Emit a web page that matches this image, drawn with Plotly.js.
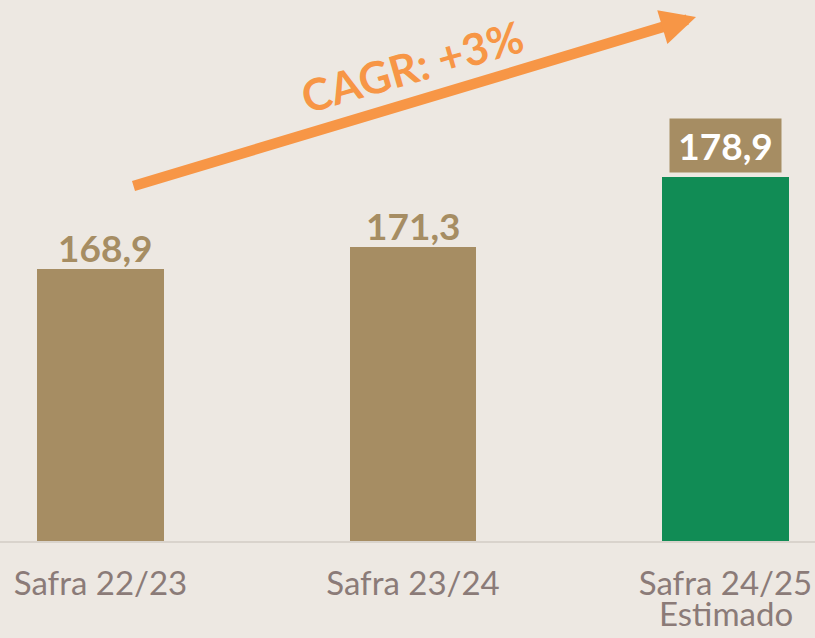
<!DOCTYPE html>
<html>
<head>
<meta charset="utf-8">
<script src="https://cdn.plot.ly/plotly-3.0.1.min.js"></script>
<style>
  html, body { margin: 0; padding: 0; background: #EDE8E2; }
  #chart { width: 815px; height: 638px; }
</style>
</head>
<body>
<div id="chart"></div>
<script>
// ---- data ----
const categories = ['Safra 22/23', 'Safra 23/24', 'Safra 24/25'];
const subLabels = ['', '', 'Estimado'];
const values = [168.9, 171.3, 178.9];
const valueLabels = ['168,9', '171,3', '178,9'];
const cagrLabel = 'CAGR: +3%';

// ---- styles ----
const TAN = '#A68D63';
const GREEN = '#118C55';
const ORANGE = '#F79646';
const BG = '#EDE8E2';
const TICK = '#8B7B78';
const barColors = values.map((v, i) => i === values.length - 1 ? GREEN : TAN);

const W = 815, H = 638, MB = 97;
const plotH = H - MB;

const trace = {
  type: 'bar',
  x: categories,
  y: values,
  width: 0.406,
  marker: { color: barColors, line: { width: 0 } },
  hoverinfo: 'skip'
};

const annotations = [];

// value labels
values.forEach((v, i) => {
  const last = i === values.length - 1;
  const a = {
    x: categories[i], y: v, xref: 'x', yref: 'y',
    text: '<b>' + valueLabels[i] + '</b>',
    showarrow: false,
    xanchor: 'center', yanchor: 'bottom',
    font: { family: 'Lato, sans-serif', size: 37, color: last ? '#FFFFFF' : TAN }
  };
  if (last) {
    a.bgcolor = TAN;
    a.width = 109;
    a.height = 51;
    a.borderpad = 1;
    a.yshift = 4;
    a.valign = 'middle';
  } else {
    a.yshift = -3;
    if (i === 0) a.xshift = 5;
  }
  annotations.push(a);
});

// second line of category labels
subLabels.forEach((s, i) => {
  if (!s) return;
  annotations.push({
    x: categories[i], y: 0, xref: 'x', yref: 'paper',
    text: s, showarrow: false,
    xanchor: 'center', yanchor: 'top', yshift: -51,
    borderpad: 0,
    font: { family: 'Lato, sans-serif', size: 33, color: TICK }
  });
});

// growth arrow
annotations.push({
  xref: 'paper', yref: 'paper',
  x: 696 / W, y: 1 - 17 / plotH,
  ax: 132 - 696, ay: 186.5 - 17,
  axref: 'pixel', ayref: 'pixel',
  text: '', showarrow: true,
  arrowhead: 2, arrowwidth: 10.5, arrowsize: 0.67,
  arrowcolor: ORANGE, standoff: 0
});

// CAGR text
annotations.push({
  xref: 'paper', yref: 'paper',
  x: 412 / W, y: 1 - 66 / plotH,
  xanchor: 'center', yanchor: 'middle',
  text: '<b>' + cagrLabel + '</b>',
  showarrow: false, textangle: -16,
  font: { family: 'Lato, sans-serif', size: 44, color: ORANGE }
});

const layout = {
  width: W, height: H,
  margin: { l: 0, r: 0, t: 0, b: MB, pad: 0 },
  paper_bgcolor: BG, plot_bgcolor: BG,
  showlegend: false,
  xaxis: {
    type: 'category',
    range: [-0.3216, 2.2864],
    showgrid: false, zeroline: false,
    showline: true, linecolor: '#D9D3CC', linewidth: 2,
    ticks: '', ticklabelstandoff: 12,
    tickfont: { family: 'Lato, sans-serif', size: 33, color: TICK },
    fixedrange: true
  },
  yaxis: {
    range: [139.5, 198.0],
    showgrid: false, zeroline: false, showline: false,
    showticklabels: false, ticks: '',
    fixedrange: true
  },
  annotations: annotations,
  bargap: 0
};

Plotly.newPlot('chart', [trace], layout, { staticPlot: true, displayModeBar: false });
</script>
</body>
</html>
